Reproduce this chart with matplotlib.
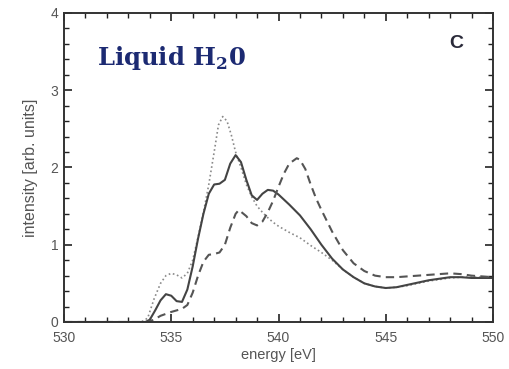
import numpy as np
import matplotlib
matplotlib.use("Agg")
import matplotlib.pyplot as plt
from matplotlib.ticker import MultipleLocator

# spectra (energy in eV, intensity in arb. units)
e_solid = [530, 533, 533.8, 534.0, 534.25, 534.5, 534.75, 535.0, 535.25, 535.5, 535.75,
           536.0, 536.25, 536.5, 536.75, 537.0, 537.25, 537.5, 537.75, 538.0, 538.25,
           538.5, 538.75, 539.0, 539.25, 539.5, 539.75, 540.0, 540.5, 541.0, 541.5,
           542.0, 542.5, 543.0, 543.5, 544.0, 544.5, 545.0, 545.5, 546.0, 546.5,
           547.0, 547.5, 548.0, 548.5, 549.0, 549.5, 550.0]
i_solid = [0.0, 0.0, 0.0, 0.03, 0.15, 0.28, 0.36, 0.34, 0.27, 0.26, 0.42,
           0.72, 1.08, 1.40, 1.66, 1.78, 1.79, 1.84, 2.05, 2.16, 2.07,
           1.84, 1.64, 1.58, 1.66, 1.71, 1.70, 1.65, 1.52, 1.38, 1.20,
           1.00, 0.82, 0.68, 0.58, 0.50, 0.46, 0.44, 0.45, 0.48, 0.51,
           0.54, 0.56, 0.58, 0.58, 0.57, 0.57, 0.57]

e_dot = [530, 533.6, 533.9, 534.2, 534.5, 534.75, 535.0, 535.25, 535.5, 535.75,
         536.0, 536.25, 536.5, 536.75, 537.0, 537.2, 537.4, 537.6, 537.8, 538.0,
         538.25, 538.5, 538.75, 539.0, 539.25, 539.5, 539.75, 540.0, 540.5, 541.0,
         541.5, 542.0, 542.5, 543.0, 543.5, 544.0, 544.5, 545.0, 545.5, 546.0,
         546.5, 547.0, 547.5, 548.0, 548.5, 549.0, 549.5, 550.0]
i_dot = [0.0, 0.0, 0.05, 0.30, 0.50, 0.60, 0.63, 0.61, 0.57, 0.63,
         0.80, 1.10, 1.42, 1.78, 2.20, 2.55, 2.66, 2.60, 2.42, 2.20,
         2.00, 1.78, 1.62, 1.50, 1.42, 1.35, 1.29, 1.24, 1.16, 1.09,
         0.99, 0.90, 0.80, 0.68, 0.58, 0.50, 0.46, 0.44, 0.45, 0.47,
         0.50, 0.53, 0.55, 0.57, 0.58, 0.58, 0.58, 0.58]

e_dash = [530, 533.9, 534.2, 534.5, 535.0, 535.5, 535.75, 536.0, 536.25, 536.5,
          536.75, 537.0, 537.25, 537.5, 537.75, 538.0, 538.15, 538.5, 538.75, 539.0,
          539.25, 539.5, 539.75, 540.0, 540.25, 540.5, 540.85, 541.0, 541.25, 541.5,
          541.75, 542.0, 542.5, 543.0, 543.5, 544.0, 544.5, 545.0, 545.5, 546.0,
          546.5, 547.0, 547.5, 548.0, 548.5, 549.0, 549.5, 550.0]
i_dash = [0.0, 0.0, 0.03, 0.08, 0.13, 0.17, 0.22, 0.38, 0.60, 0.78,
          0.87, 0.88, 0.90, 1.00, 1.22, 1.40, 1.45, 1.37, 1.28, 1.25,
          1.30, 1.42, 1.57, 1.75, 1.92, 2.05, 2.12, 2.10, 1.98, 1.78,
          1.60, 1.45, 1.17, 0.93, 0.76, 0.66, 0.60, 0.58, 0.58, 0.59,
          0.60, 0.61, 0.62, 0.63, 0.62, 0.60, 0.59, 0.58]

fig = plt.figure(figsize=(5.1, 3.69), dpi=100)
ax = fig.add_axes([0.1255, 0.1274, 0.8412, 0.8374])

ax.plot(e_dot, i_dot, color='#8a8a8a', lw=1.2, linestyle=(0, (1, 1.6)))
ax.plot(e_solid, i_solid, color='#444444', lw=1.5)
ax.plot(e_dash, i_dash, color='#555555', lw=1.5, linestyle=(0, (4, 2.5)))

ax.set_xlim(530, 550)
ax.set_ylim(0, 4)
ax.xaxis.set_major_locator(MultipleLocator(5))
ax.xaxis.set_minor_locator(MultipleLocator(1))
ax.yaxis.set_major_locator(MultipleLocator(1))
ax.yaxis.set_minor_locator(MultipleLocator(0.2))
ax.tick_params(which='both', direction='in', top=True, right=True, color='#222222',
               labelsize=10, labelcolor='#555555')
ax.tick_params(axis='x', which='major', pad=6.5)
ax.tick_params(axis='y', which='major', pad=4)
ax.tick_params(which='major', length=6, width=1.2)
ax.tick_params(which='minor', length=3.5, width=1.0)
for lab in ax.get_xticklabels() + ax.get_yticklabels():
    lab.set_family('Liberation Sans')
for s in ax.spines.values():
    s.set_linewidth(1.4)
    s.set_color('#333333')

ax.set_xlabel('energy [eV]', fontsize=10.5, color='#555555', family='Liberation Sans', labelpad=2)
ax.set_ylabel('intensity [arb. units]', fontsize=11.5, color='#555555', family='Liberation Sans', labelpad=9)

ax.text(0.078, 0.855, r'Liquid H$_\mathregular{2}$0', transform=ax.transAxes, fontsize=17.5,
        fontweight='bold', family='DejaVu Serif', color='#1c2a72', va='center')
ax.text(0.915, 0.9, 'C', transform=ax.transAxes, fontsize=14, fontweight='bold',
        family='Liberation Sans', color='#2a2a3a', ha='center', va='center')

fig.savefig('out.png', dpi=100)
